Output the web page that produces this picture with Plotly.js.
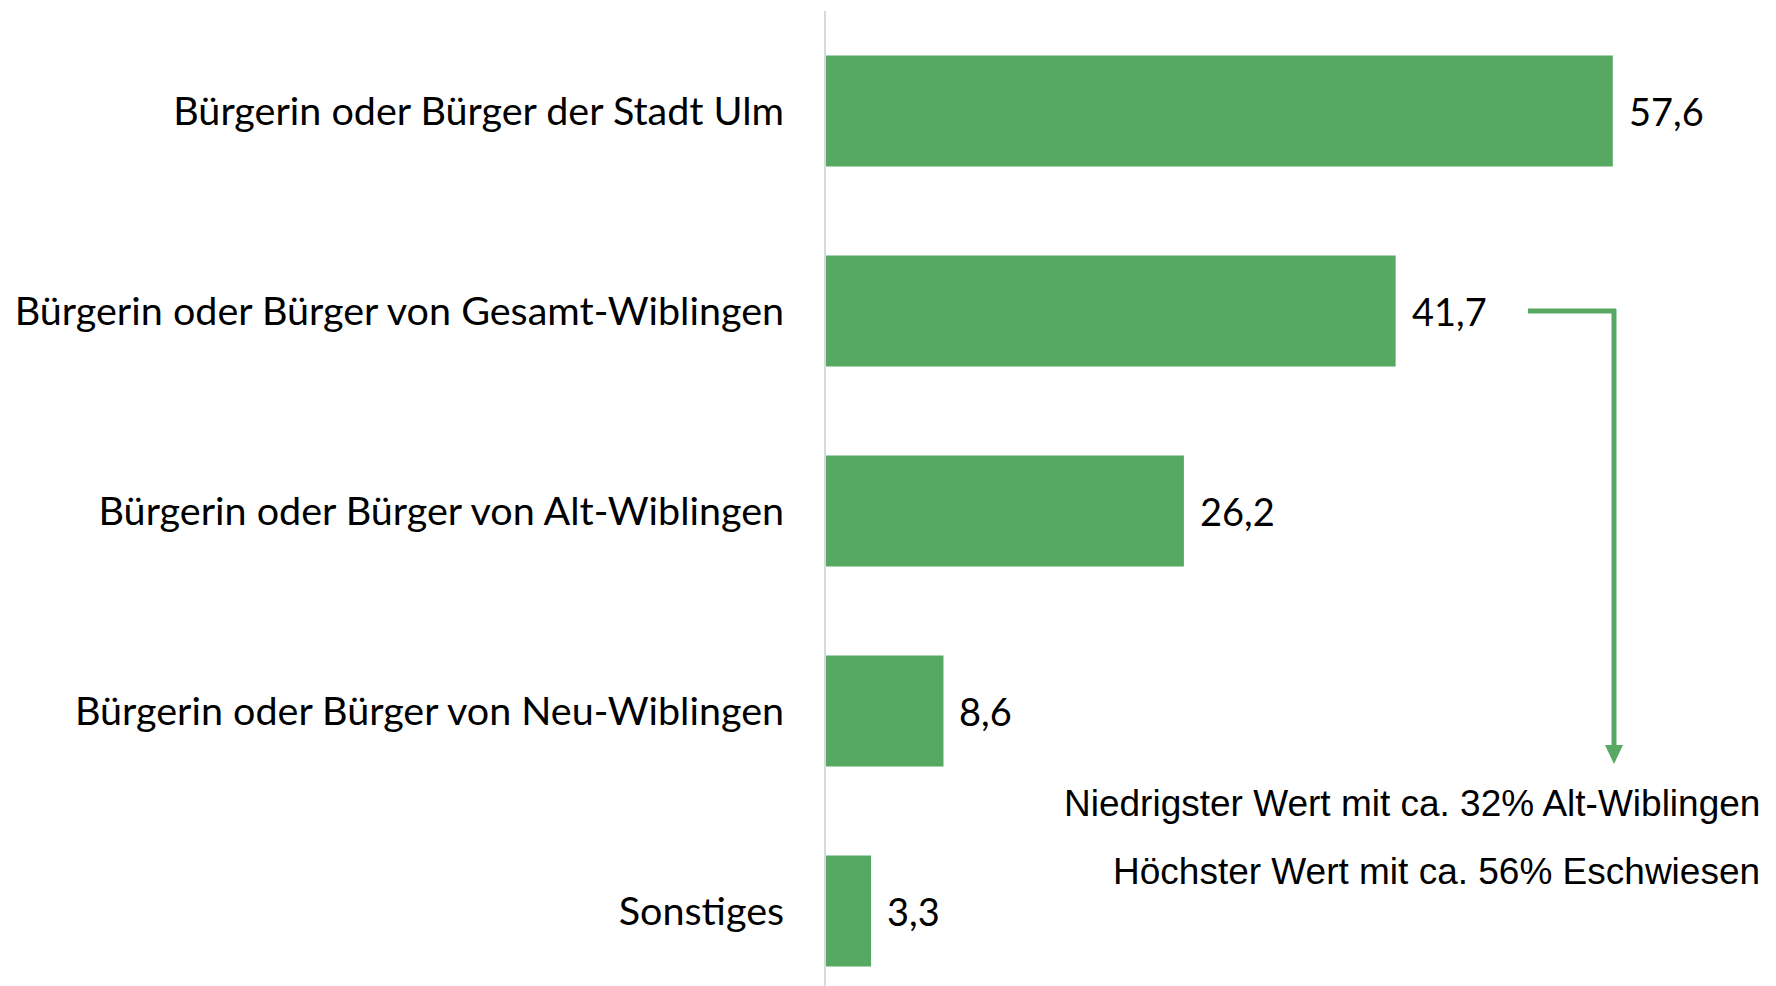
<!DOCTYPE html>
<html>
<head>
<meta charset="utf-8">
<script src="https://cdn.plot.ly/plotly-3.0.1.min.js"></script>
<style>html,body{margin:0;padding:0;background:#fff;}#chart{width:1776px;height:986px;}</style>
</head>
<body>
<div id="chart"></div>
<script>
// Data
const categories = [
  "Bürgerin oder Bürger der Stadt Ulm",
  "Bürgerin oder Bürger von Gesamt-Wiblingen",
  "Bürgerin oder Bürger von Alt-Wiblingen",
  "Bürgerin oder Bürger von Neu-Wiblingen",
  "Sonstiges"
];
const values = [57.6, 41.7, 26.2, 8.6, 3.3];
const noteLines = [
  "Niedrigster Wert mit ca. 32% Alt-Wiblingen",
  "Höchster Wert mit ca. 56% Eschwiesen"
];

const green = "#56A862";
const W = 1776, H = 986;
const mL = 826, mR = 10, mT = 11, mB = 0;
const pw = W - mL - mR, ph = H - mT - mB;
const px = x => (x - mL) / pw;         // pixel -> paper x
const py = y => 1 - (y - mT) / ph;      // pixel -> paper y

const trace = {
  type: "bar",
  orientation: "h",
  x: values,
  y: categories,
  marker: {color: green},
  hoverinfo: "none"
};

const valueLabels = values.map((v, i) => ({
  x: v, y: categories[i], xref: "x", yref: "y",
  text: v.toFixed(1).replace(".", ","),
  showarrow: false, xanchor: "left", yanchor: "middle", xshift: 14,
  font: {family: "Lato, 'Noto Sans', sans-serif", size: 38, color: "#000"}
}));

const notes = noteLines.map((t, i) => ({
  x: px(1762), y: py(i === 0 ? 803 : 871), xref: "paper", yref: "paper",
  text: t, showarrow: false, xanchor: "right", yanchor: "middle",
  font: {family: "'Liberation Sans', Arial, sans-serif", size: 37, color: "#000"}
}));

const shapes = [
  {type: "line", xref: "paper", yref: "paper", x0: px(1528), x1: px(1616), y0: py(311), y1: py(311),
   line: {color: green, width: 5}},
  {type: "line", xref: "paper", yref: "paper", x0: px(1614), x1: px(1614), y0: py(309), y1: py(750),
   line: {color: green, width: 5}},
  {type: "path", xref: "paper", yref: "paper",
   path: `M ${px(1605)} ${py(745)} L ${px(1623)} ${py(745)} L ${px(1614)} ${py(764)} Z`,
   fillcolor: green, line: {color: green, width: 0}}
];

const layout = {
  width: W, height: H,
  margin: {l: mL, r: mR, t: mT, b: mB, pad: 0},
  paper_bgcolor: "#fff", plot_bgcolor: "#fff",
  showlegend: false,
  bargap: 0.445,
  xaxis: {range: [0, pw / 13.66], showgrid: false, zeroline: false, showline: false,
          showticklabels: false, ticks: "", fixedrange: true},
  yaxis: {type: "category", range: [4.375, -0.5], showgrid: false, zeroline: false,
          showline: true, linecolor: "#d9d9d9", linewidth: 2,
          ticks: "outside", ticklen: 32, tickcolor: "rgba(0,0,0,0)",
          tickfont: {family: "Lato, 'Noto Sans', sans-serif", size: 39.5, color: "#000"}},
  annotations: valueLabels.concat(notes),
  shapes: shapes
};

Plotly.newPlot("chart", [trace], layout, {displayModeBar: false, staticPlot: true});
</script>
</body>
</html>
